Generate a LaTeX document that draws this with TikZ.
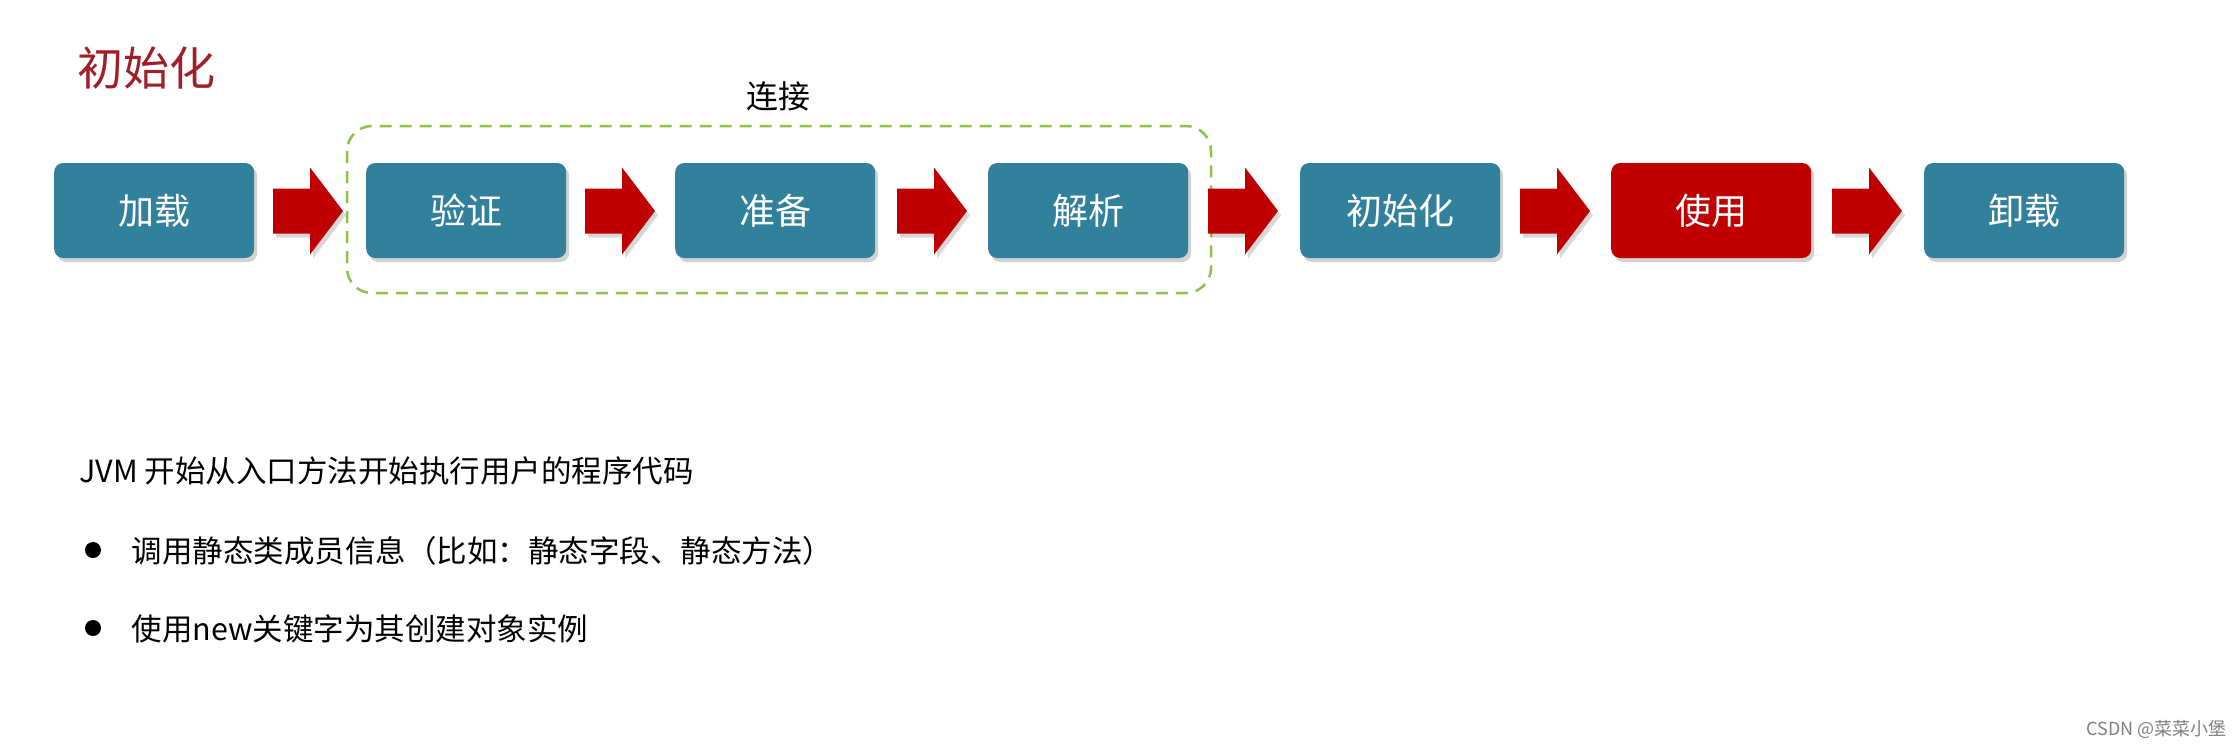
\documentclass[tikz,border=0pt]{standalone}
\usepackage{fontspec}
\setmainfont{Noto Sans CJK SC}
\usetikzlibrary{shadows}
\definecolor{teal1}{HTML}{31819C}
\definecolor{red1}{HTML}{C00000}
\definecolor{title}{HTML}{A01E28}
\definecolor{grn}{HTML}{8BC34A}
\tikzset{x=1pt,y=-1pt,
 stage/.style={rounded corners=9pt,minimum width=200pt,minimum height=95pt,fill=teal1,text=white,font=\fontsize{36}{40}\selectfont,drop shadow={shadow xshift=3pt,shadow yshift=-4pt,opacity=0.35},anchor=west},
 blk/.style={fill=red1,drop shadow={shadow xshift=3pt,shadow yshift=-4pt,opacity=0.3}},
 body/.style={font=\fontsize{30.5}{36}\selectfont,anchor=west}}
\newcommand\blkarrow[1]{\path[blk] (#1,188.5) -- ++(37,0) -- ++(0,-21) -- ++(33,43.5) -- ++(-33,43.5) -- ++(0,-21) -- ++(-37,0) -- cycle;}
\begin{document}
\begin{tikzpicture}
\useasboundingbox (0,0) rectangle (2239,748);
\fill[white] (0,0) rectangle (2239,748);
\node[text=title,font=\fontsize{46}{52}\selectfont,anchor=west] (t) at (74,68) {初始化};
\node[font=\fontsize{32}{36}\selectfont] (lj) at (778,96) {连接};
\draw[grn,line width=2.5pt,dash pattern=on 12pt off 8pt,rounded corners=25pt] (347,126) rectangle (1211,293);
\node[stage] (a) at (54,210.5) {加载};
\node[stage] (b) at (366,210.5) {验证};
\node[stage] (c) at (675,210.5) {准备};
\node[stage] (d) at (988,210.5) {解析};
\node[stage] (e) at (1300,210.5) {初始化};
\node[stage,fill=red1] (f) at (1611,210.5) {使用};
\node[stage] (g) at (1924,210.5) {卸载};
\foreach \s in {273,585,897,1208,1520,1832}{\blkarrow{\s}}
\node[body] (p) at (76,471) {JVM 开始从入口方法开始执行用户的程序代码};
\fill (93,550) circle (8pt);
\node[body] (b1) at (128,551) {调用静态类成员信息（比如：静态字段、静态方法）};
\fill (93,628) circle (8pt);
\node[body] (b2) at (128,629) {使用new关键字为其创建对象实例};
\node[font=\fontsize{18}{20}\selectfont,text=gray,anchor=east] (w) at (2230,729) {CSDN @菜菜小堡};
\end{tikzpicture}
\end{document}
